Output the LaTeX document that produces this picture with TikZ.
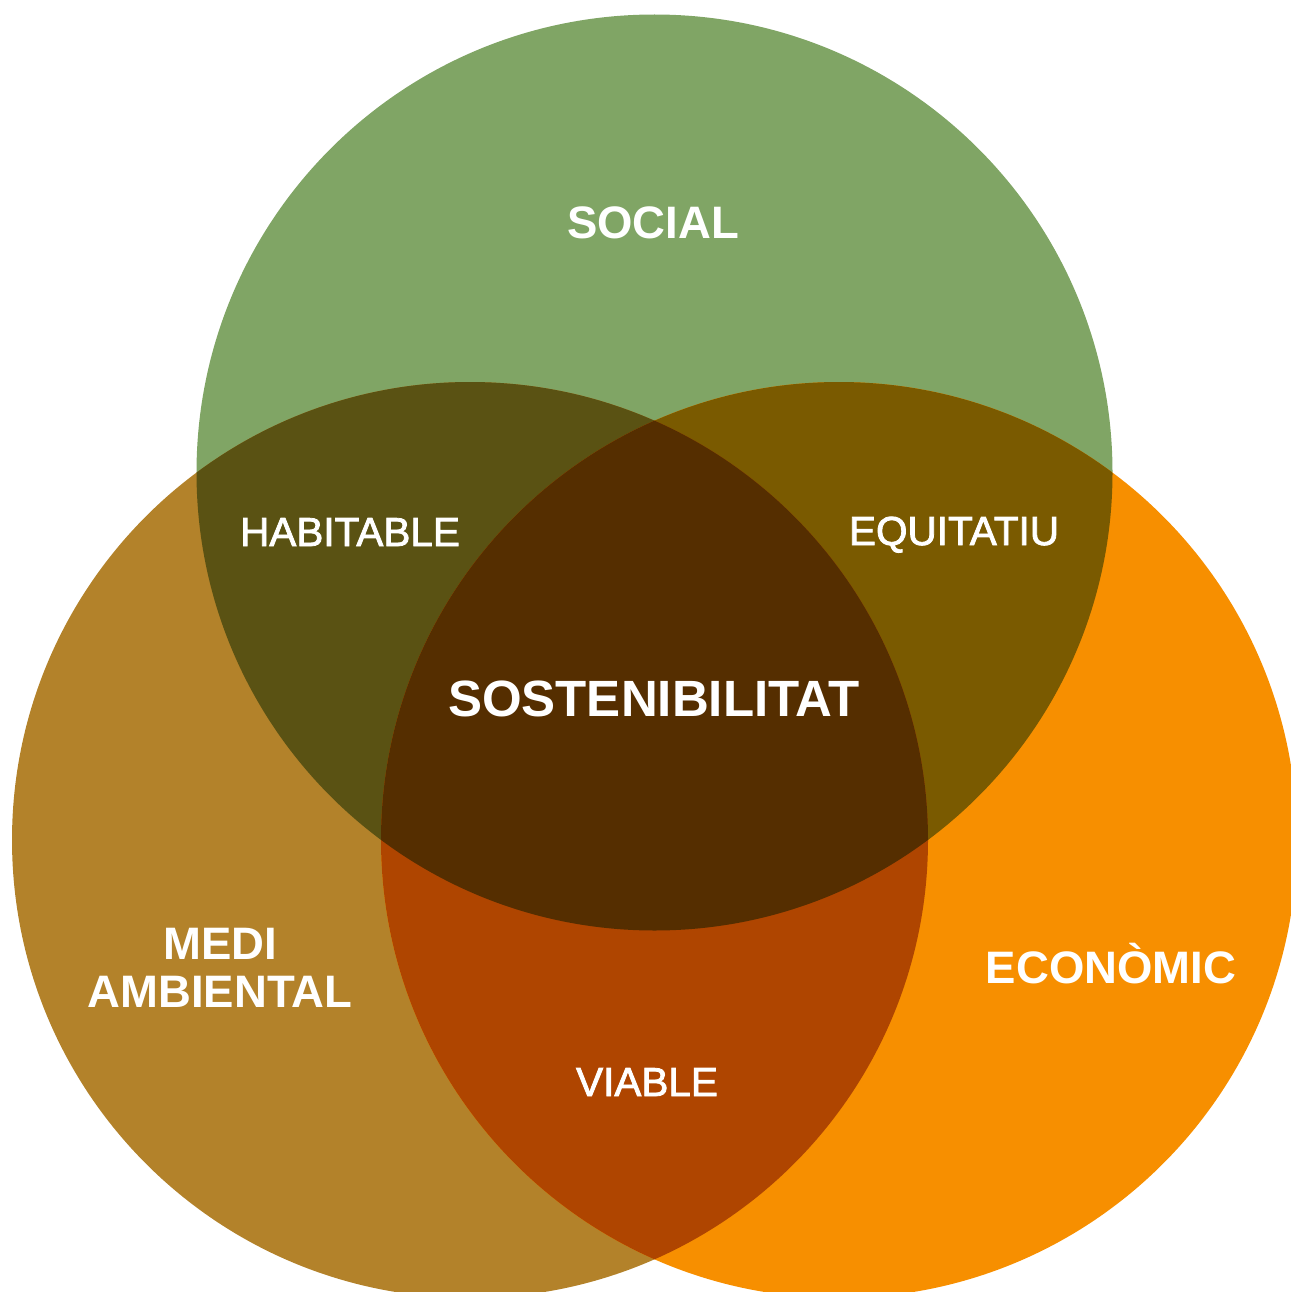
\documentclass[tikz,border=0pt]{standalone}
\usepackage{fontspec}
\setmainfont{Liberation Sans}
\newfontfamily\medfont[FakeBold=2]{Liberation Sans}
\definecolor{socialc}{HTML}{80A565}
\definecolor{medic}{HTML}{B3822A}
\definecolor{econc}{HTML}{F78F00}
\definecolor{smc}{HTML}{5A5213}
\definecolor{sec}{HTML}{7A5A00}
\definecolor{mec}{HTML}{AF4500}
\definecolor{allc}{HTML}{552E00}
\tikzset{
  boldlbl/.style={text=white, font=\bfseries\fontsize{45.5}{48}\selectfont, anchor=base, inner sep=0pt, align=center},
  medlbl/.style={text=white, font=\medfont\fontsize{40.5}{44}\selectfont, anchor=base, inner sep=0pt},
}
\begin{document}
\begin{tikzpicture}[x=1pt,y=-1pt]
\useasboundingbox (0,0) rectangle (1290,1292);
\def\R{458}
\coordinate (cs) at (654.5,472.5);
\coordinate (cm) at (470,840);
\coordinate (ce) at (839,840);
% single regions
\fill[socialc] (cs) circle[radius=\R];
\fill[medic] (cm) circle[radius=\R];
\fill[econc] (ce) circle[radius=\R];
% pairwise overlaps
\begin{scope}
  \clip (cm) circle[radius=\R];
  \fill[smc] (cs) circle[radius=\R];
\end{scope}
\begin{scope}
  \clip (ce) circle[radius=\R];
  \fill[sec] (cs) circle[radius=\R];
\end{scope}
\begin{scope}
  \clip (cm) circle[radius=\R];
  \fill[mec] (ce) circle[radius=\R];
\end{scope}
% triple overlap
\begin{scope}
  \clip (cm) circle[radius=\R];
  \clip (ce) circle[radius=\R];
  \fill[allc] (cs) circle[radius=\R];
\end{scope}
% labels
\node[boldlbl] (social) at (653,238) {SOCIAL};
\node[medlbl] (habitable) at (350,546) {HABITABLE};
\node[medlbl] (equitatiu) at (954,545) {EQUITATIU};
\node[boldlbl, font=\bfseries\fontsize{51}{54}\selectfont] (sost) at (654,716) {SOSTENIBILITAT};
\node[boldlbl] (medi) at (220,959) {MEDI};
\node[boldlbl] (ambiental) at (220,1007) {AMBIENTAL};
\node[boldlbl] (econ) at (1111,983) {ECONÒMIC};
\node[medlbl] (viable) at (647,1096) {VIABLE};
\end{tikzpicture}
\end{document}
